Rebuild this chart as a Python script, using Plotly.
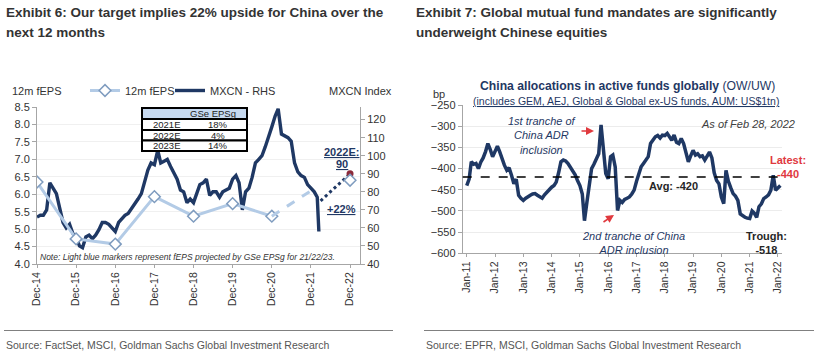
import pandas as pd
import plotly.graph_objects as go

W, H = 814, 361
def px(x): return x / W
def py(y): return 1 - y / H

NAVY = "#1f3864"
LBLUE = "#b3cbe6"
GRAY = "#a6a6a6"
TXT = "#333333"
FONT = "Liberation Sans, Arial, sans-serif"

# ---------------- Exhibit 6 data ----------------
eps_dates = ["2014-12-31", "2015-12-31", "2016-12-31", "2017-12-31",
             "2018-12-31", "2019-12-31", "2020-12-31"]
eps_vals = [6.35, 4.72, 4.57, 5.93, 5.37, 5.73, 5.37]
eps_proj_dates = ["2020-12-31", "2021-12-31"]
eps_proj_vals = [5.37, 6.10]
eps_target_dates = ["2022-12-31"]
eps_target_vals = [6.40]

mxcn_vals = [66, 67, 67, 70, 85, 82, 79, 71, 63, 60, 62, 57,      # Dec14-Nov15
             55, 50, 49, 55, 56, 54, 56, 59, 63, 63, 62, 60,      # Dec15-Nov16
             58, 63, 65, 67, 68, 71, 73, 76, 79, 85, 92, 96,      # Dec16-Nov17
             95, 103, 96, 97, 98, 94, 90, 87, 81, 80, 74, 76,     # Dec17-Nov18
             74, 79, 84, 85, 87, 78, 80, 80, 77, 80, 81, 82,      # Dec18-Nov19
             87, 89, 85, 70, 80, 82, 88, 96, 98, 100, 105, 110,   # Dec19-Nov20
             116, 122, 126, 112, 111, 110, 108, 96, 91, 89, 88, 84,  # Dec20-Nov21
             82, 80, 77]                                           # Dec21-Feb22
mxcn_dates = list(pd.date_range("2014-12-31", periods=len(mxcn_vals),
                                freq=pd.offsets.MonthEnd()).strftime("%Y-%m-%d"))
mxcn_last_date, mxcn_last_val = "2022-03-15", 58
mxcn_dates.append(mxcn_last_date)
mxcn_vals = mxcn_vals + [mxcn_last_val]

path_dates = ["2022-03-31", "2022-12-31"]
path_vals = [75, 90]
target_val = 90

left_ticks = [f"{y}-12-31" for y in range(2014, 2023)]
left_ticktext = [f"Dec-{y % 100:02d}" for y in range(2014, 2023)]

table_rows = [("2021E", "18%"), ("2022E", "4%"), ("2023E", "14%")]

# ---------------- Exhibit 7 data ----------------
alloc_vals = [-440, -425, -384, -390, -388, -400, -385, -375, -360, -341, -355, -372,   # 2011
              -360, -347, -360, -378, -392, -404, -398, -416, -436, -425, -463, -470,   # 2012
              -475, -470, -466, -463, -460, -459, -463, -467, -470, -462, -455, -450,   # 2013
              -444, -440, -432, -410, -384, -380, -382, -388, -396, -404, -415, -428,   # 2014
              -440, -460, -523, -480, -444, -400, -390, -376, -365, -297, -357, -412,   # 2015
              -424, -372, -368, -396, -499, -475, -480, -473, -470, -467, -460, -451,   # 2016
              -430, -412, -396, -388, -380, -372, -341, -332, -325, -322, -328, -321,   # 2017
              -322, -317, -325, -333, -321, -338, -341, -329, -341, -365, -384, -370,   # 2018
              -357, -368, -365, -372, -370, -380, -370, -361, -375, -410, -428, -436,   # 2019
              -467, -483, -404, -430, -445, -459, -465, -475, -507, -512, -515, -517,   # 2020
              -518, -500, -505, -515, -490, -483, -471, -467, -462, -451, -416, -451,   # 2021
              -445, -440]                                                               # 2022
alloc_dates = list(pd.date_range("2011-01-01", periods=len(alloc_vals),
                                 freq="MS").strftime("%Y-%m-%d"))
alloc_avg = -420
right_ticks = [f"{y}-01-01" for y in range(2011, 2023)]
right_ticktext = [f"Jan-{y % 100:02d}" for y in range(2011, 2023)]

fig = go.Figure()

# left chart traces
fig.add_trace(go.Scatter(x=eps_dates, y=eps_vals, name="12m fEPS", yaxis="y2", xaxis="x",
                         mode="lines+markers", legend="legend",
                         line=dict(color=LBLUE, width=3),
                         marker=dict(symbol="diamond", size=9, color="white",
                                     line=dict(color="#7f9cbf", width=1.5))))
fig.add_trace(go.Scatter(x=mxcn_dates, y=mxcn_vals, name="MXCN - RHS", yaxis="y", xaxis="x",
                         mode="lines", legend="legend2", line=dict(color=NAVY, width=3.4)))
fig.add_trace(go.Scatter(x=path_dates, y=path_vals, yaxis="y", xaxis="x", showlegend=False,
                         mode="lines", line=dict(color=NAVY, width=3, dash="dot")))
fig.add_trace(go.Scatter(x=[path_dates[-1]], y=[target_val], yaxis="y", xaxis="x",
                         showlegend=False, mode="markers",
                         marker=dict(color="#8b2a3a", size=7)))
fig.add_trace(go.Scatter(x=eps_proj_dates, y=eps_proj_vals, yaxis="y2", xaxis="x",
                         showlegend=False, mode="lines",
                         line=dict(color=LBLUE, width=3, dash="dash")))
fig.add_trace(go.Scatter(x=eps_target_dates, y=eps_target_vals, yaxis="y2", xaxis="x",
                         showlegend=False, mode="markers",
                         marker=dict(symbol="diamond", size=9, color="white",
                                     line=dict(color="#7f9cbf", width=1.5))))

# right chart traces
fig.add_trace(go.Scatter(x=alloc_dates, y=alloc_vals, xaxis="x2", yaxis="y3", showlegend=False,
                         mode="lines", line=dict(color=NAVY, width=3.5)))

tickfont = dict(family=FONT, size=11, color=TXT)
xtickfont = dict(family=FONT, size=10.5, color=TXT)
legfont = dict(family=FONT, size=11, color=TXT)

fig.update_layout(
    template="none",
    width=W, height=H, margin=dict(l=0, r=0, t=0, b=0, pad=0), autosize=False,
    paper_bgcolor="white", plot_bgcolor="white",
    font=dict(family=FONT, color=TXT),
    xaxis=dict(domain=[px(37), px(360)], anchor="y", type="date", automargin=False,
               range=["2014-12-31", "2023-04-03"],
               tickmode="array", tickvals=left_ticks, ticktext=left_ticktext,
               tickangle=-90, tickfont=xtickfont, showline=True, linecolor=GRAY,
               ticks="outside", ticklen=3, tickcolor=GRAY, showgrid=False, zeroline=False),
    yaxis=dict(domain=[py(264), py(107)], anchor="x", side="right", automargin=False,
               range=[40, 127.0], tickmode="array", tickvals=list(range(40, 121, 10)),
               tickfont=tickfont, showline=True, linecolor=GRAY, ticks="outside",
               ticklen=4, tickcolor=GRAY, showgrid=False, zeroline=False),
    yaxis2=dict(overlaying="y", side="left", anchor="x", range=[4.0, 8.5], dtick=0.5,
                tick0=4.0, tickformat=".1f", tickfont=tickfont, showline=True,
                automargin=False,
                linecolor=GRAY, ticks="outside", ticklen=4, tickcolor=GRAY,
                showgrid=True, gridcolor="#f0f0f0", zeroline=False),
    xaxis2=dict(domain=[px(462.7), px(782)], anchor="y3", type="date", automargin=False,
                range=["2010-11-10", "2022-02-22"],
                tickmode="array", tickvals=right_ticks, ticktext=right_ticktext,
                tickangle=-90, tickfont=xtickfont, showline=True, linecolor=GRAY,
                ticks="outside", ticklen=3, tickcolor=GRAY, showgrid=False, zeroline=False),
    yaxis3=dict(domain=[py(253.3), py(105)], anchor="x2", range=[-600, -250], dtick=50,
                automargin=False,
                tickfont=tickfont, showline=True, linecolor=GRAY, ticks="outside",
                ticklen=4, tickcolor=GRAY, showgrid=True, gridcolor="#ececec",
                zeroline=False),
    legend=dict(orientation="h", x=px(85), y=py(90.5), xanchor="left", yanchor="middle",
                font=legfont, bgcolor="rgba(0,0,0,0)", itemwidth=30, borderwidth=0),
    legend2=dict(orientation="h", x=px(170), y=py(90.5), xanchor="left", yanchor="middle",
                 font=legfont, bgcolor="rgba(0,0,0,0)", itemwidth=30, borderwidth=0),
    showlegend=True,
)

ann = []
def A(text, x, y, xa="center", ya="middle", size=11, color=TXT, family=FONT, **kw):
    ann.append(dict(text=text, x=px(x), y=py(y), xref="paper", yref="paper",
                    xanchor=xa, yanchor=ya, showarrow=False,
                    font=dict(size=size, color=color, family=family), **kw))

# titles
TS = 13.5
A("<b>Exhibit 6: Our target implies 22% upside for China over the</b>", 4, 12, xa="left",
  size=TS, color="#333333")
A("<b>next 12 months</b>", 4, 32, xa="left", size=TS, color="#333333")
A("<b>Exhibit 7: Global mutual fund mandates are significantly</b>", 414, 12, xa="left",
  size=TS, color="#333333")
A("<b>underweight Chinese equities</b>", 414, 32, xa="left", size=TS, color="#333333")

# sources
A("Source: FactSet, MSCI, Goldman Sachs Global Investment Research", 4, 345, xa="left",
  size=10.5, color="#555555")
A("Source: EPFR, MSCI, Goldman Sachs Global Investment Research", 424, 345, xa="left",
  size=10.5, color="#555555")

# left chart labels
A("12m fEPS", 10, 91, xa="left", size=11)
A("MXCN Index", 327, 91, xa="left", size=11)
A("<i>Note: Light blue markers represent fEPS projected by GSe EPSg for 21/22/23.</i>",
  38, 257, xa="left", size=8.5, color=TXT)
A("<b><u>2022E:</u></b>", 341.5, 151.5, size=11, color=NAVY)
A("<b><u>90</u></b>", 341.5, 163.5, size=11, color=NAVY)
A("<b><u>+22%</u></b>", 341, 208.5, size=11, color=NAVY)

# table
A("GSe EPSg", 213, 113.5, size=9.5, color="#222222")
row_y = [124.5, 135, 145.5]
for (lab, val), yy in zip(table_rows, row_y):
    A(lab, 166, yy, size=9.5, color="#222222")
    A(val, 218, yy, size=9.5, color="#222222")

# right chart labels
A("<b>China allocations in active funds globally</b> (OW/UW)", 627, 86, size=12.2, color=NAVY)
A("<u>(includes GEM, AEJ, Global &amp; Global ex-US funds, AUM: US$1tn)</u>", 626, 101,
  size=10.5, color=NAVY)
A("bp", 439, 94, size=11)
A("<i>As of Feb 28, 2022</i>", 748, 124.5, size=11, color="#404040")
A("<i>1st tranche of<br>China ADR<br>inclusion</i>", 541.5, 136, size=11, color=NAVY)
A("<i>2nd tranche of China<br>ADR inclusion</i>", 633, 242.5, size=11, color=NAVY)
A("<b>Avg: -420</b>", 673, 186, size=11, color="#262626")
A("<b>Latest:<br>-440</b>", 788, 167, size=11, color="#e0393e")
A("<b>Trough:<br>-518</b>", 766, 243, size=11, color="#262626")

# arrows
def ARROW(x, y, ax, ay):
    ann.append(dict(text="", x=px(x), y=py(y), xref="paper", yref="paper",
                    showarrow=True, ax=ax, ay=ay, arrowhead=2, arrowsize=1,
                    arrowwidth=1.6, arrowcolor="#e0393e"))
ARROW(594, 131, -14, 0)
ARROW(614, 215, -12, 8)

fig.update_layout(annotations=ann)

# shapes: table, avg line, source rules
shapes = []
def RECT(x0, y0, x1, y1, fill, lw=2):
    shapes.append(dict(type="rect", xref="paper", yref="paper", x0=px(x0), x1=px(x1),
                       y0=py(y1), y1=py(y0), fillcolor=fill, layer="above",
                       line=dict(color="black", width=lw)))
RECT(142, 108, 247, 151, "white")
RECT(142, 108, 247, 119, "#c6d9f0")
RECT(142, 119, 247, 130, "white")
RECT(142, 130, 247, 140.5, "white")
RECT(142, 140.5, 247, 151, "white")

shapes.append(dict(type="line", xref="x2 domain", yref="y3", x0=0, x1=0.995,
                   y0=alloc_avg, y1=alloc_avg, layer="above",
                   line=dict(color="black", width=1.6, dash="dash")))
for x0, x1 in [(4, 393), (424, 814)]:
    shapes.append(dict(type="line", xref="paper", yref="paper", x0=px(x0), x1=px(x1),
                       y0=py(330.5), y1=py(330.5), line=dict(color="#808080", width=1)))
fig.update_layout(shapes=shapes)

fig.write_html("out.html",
               config={"displayModeBar": False, "staticPlot": False},
               post_script="document.body.style.margin='0px';"
                           "document.body.style.overflow='hidden';")
